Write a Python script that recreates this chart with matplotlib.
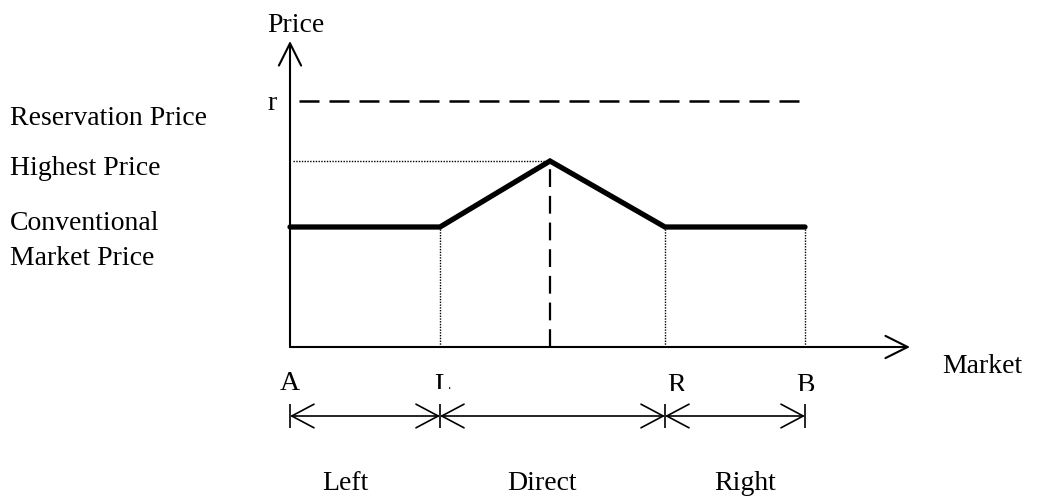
import matplotlib
matplotlib.use("Agg")
import matplotlib.pyplot as plt
from matplotlib.patches import FancyArrowPatch, ArrowStyle
from matplotlib.transforms import Bbox, TransformedBbox

plt.rcParams['font.family'] = ['Liberation Serif', 'DejaVu Serif']

# ---- data (market positions along x, price levels along y) ----
market_labels = ['A', 'L', 'R', 'B']
market_pos = [0, 150, 375, 515]
peak_pos = 260
price_conventional = 120
price_highest = 186
price_reservation = 246
line_x = [market_pos[0], market_pos[1], peak_pos, market_pos[2], market_pos[3]]
line_y = [price_conventional, price_conventional, price_highest,
          price_conventional, price_conventional]
segment_labels = ['Left', 'Direct', 'Right']
level_labels = ['Reservation Price', 'Highest Price', 'Conventional', 'Market Price']

FS = 20
fig = plt.figure(figsize=(10.39, 4.97), dpi=100)
ax = fig.add_axes([0, 0, 1, 1])
ax.set_xlim(-290, 749)
ax.set_ylim(-150, 347)
ax.axis('off')

# axes with open arrowheads
axis_style = ArrowStyle('->', head_length=16, head_width=8)
ax.add_patch(FancyArrowPatch((0, 0), (0, 306), arrowstyle=axis_style,
                             mutation_scale=1, lw=1.5, color='black',
                             shrinkA=0, shrinkB=0))
ax.add_patch(FancyArrowPatch((0, 0), (620, 0), arrowstyle=axis_style,
                             mutation_scale=1, lw=1.5, color='black',
                             shrinkA=0, shrinkB=0))

# reservation price dashed line
ax.plot([9, 518], [price_reservation, price_reservation], color='black',
        lw=1.8, linestyle=(0, (8, 4)))
# highest price dotted guide
ax.plot([3, peak_pos], [price_highest, price_highest], color='black',
        lw=1.0, linestyle=(0, (1, 1)))
# vertical dashed at peak
ax.plot([peak_pos, peak_pos], [0, price_highest], color='black',
        lw=1.6, linestyle=(0, (8, 4)))
# vertical dotted at L, R, B
for xp in market_pos[1:]:
    ax.plot([xp, xp], [0, price_conventional], color='black', lw=1.0,
            linestyle=(0, (1, 1)))

# price line
ax.plot(line_x, line_y, color='black', lw=3.8, solid_capstyle='round',
        solid_joinstyle='miter')

# labels
ax.text(-23, 315, 'Price', fontsize=FS, ha='left', va='baseline')
ax.text(-23, 237, 'r', fontsize=FS, ha='left', va='baseline')
ax.text(652, -26, 'Market', fontsize=FS, ha='left', va='baseline')

level_y = [222, 172, 117, 82]
for lab, yy in zip(level_labels, level_y):
    ax.text(-280, yy, lab, fontsize=FS, ha='left', va='baseline')

label_x = [0, 153, 387, 515]
label_base = [-43, -45, -45, -45]
clip_tops = [None, -42.0, -43.5, -43.5]
for lab, xx, yb, ct in zip(market_labels, label_x, label_base, clip_tops):
    t = ax.text(xx, yb, lab, fontsize=FS, ha='center', va='baseline')
    if ct is not None:
        t.set_clip_on(True)
        t.set_clip_box(TransformedBbox(Bbox([[-290, ct], [749, 60]]),
                                       ax.transData))

# measurement arrows
ym = -69
meas_style = ArrowStyle('<->', head_length=16, head_width=8.5)
for a, b in zip(market_pos[:-1], market_pos[1:]):
    ax.add_patch(FancyArrowPatch((a, ym), (b, ym), arrowstyle=meas_style,
                                 mutation_scale=1, lw=1.2, color='black',
                                 shrinkA=0, shrinkB=0))
ax.vlines(market_pos, ym - 12, ym + 12, color='black', lw=1.2)

seg_x = [32, 217, 424]
for lab, xx in zip(segment_labels, seg_x):
    ax.text(xx, -143, lab, fontsize=FS, ha='left', va='baseline')

fig.savefig('out.png', dpi=100)
